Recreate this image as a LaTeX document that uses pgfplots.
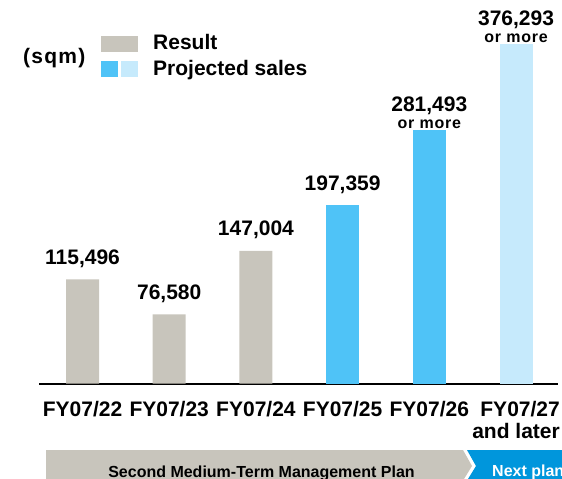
\documentclass[border=0pt]{standalone}
\usepackage{fontspec}
\setmainfont{Liberation Sans}
\usepackage{pgfplots}
\pgfplotsset{compat=1.18}
\definecolor{resgray}{RGB}{200,197,188}
\definecolor{projblue}{RGB}{79,195,247}
\definecolor{projlight}{RGB}{198,234,252}
\definecolor{banblue}{RGB}{0,150,220}
\newcommand{\ormore}{{\fontsize{16bp}{17bp}\selectfont\addfontfeatures{LetterSpace=5}or more}}
\begin{document}
\begin{tikzpicture}
\path[use as bounding box] (0,0) rectangle (562bp,-479bp);
\begin{axis}[
  at={(39bp,-383.5bp)}, anchor=south west,
  scale only axis, width=519bp, height=383.5bp,
  xmin=-0.502, xmax=5.484, ymin=0, ymax=425072,
  axis x line*=bottom, axis y line=none,
  x axis line style={line width=2bp},
  ybar, bar width=33bp, bar shift=0pt,
  xtick={0,1,2,3,4,5},
  xticklabels={FY07/22,FY07/23,FY07/24,FY07/25,FY07/26,{FY07/27\\and later}},
  xticklabel style={font=\fontsize{21bp}{22bp}\selectfont\bfseries, anchor=north, inner sep=0pt, yshift=-17.2bp, align=right},
  major tick length=0pt,
  clip=false,
  /pgf/number format/1000 sep={,},
  /pgf/number format/fixed,
  /pgf/number format/assume math mode=true,
]
\addplot[fill=resgray, draw=none, nodes near coords,
  every node near coord/.append style={font=\fontsize{21bp}{22bp}\selectfont\bfseries, anchor=base, yshift=15bp, inner sep=0pt}]
  coordinates {(0,115496) (1,76580) (2,147004)};
\addplot[fill=projblue, draw=none, nodes near coords,
  every node near coord/.append style={font=\fontsize{21bp}{22bp}\selectfont\bfseries, anchor=base, yshift=15bp, inner sep=0pt}]
  coordinates {(3,197359)};
\addplot[fill=projblue, draw=none,
  nodes near coords={\pgfmathprintnumber{\pgfplotspointmeta}\\\ormore},
  every node near coord/.append style={font=\fontsize{21bp}{17bp}\selectfont\bfseries, align=center, anchor=south, yshift=1bp, inner sep=0pt}]
  coordinates {(4,281493)};
\addplot[fill=projlight, draw=none,
  nodes near coords={\pgfmathprintnumber{\pgfplotspointmeta}\\\ormore},
  every node near coord/.append style={font=\fontsize{21bp}{17bp}\selectfont\bfseries, align=center, anchor=south, yshift=1bp, inner sep=0pt}]
  coordinates {(5,376293)};
\end{axis}
% legend
\fill[resgray] (101bp,-36bp) rectangle (138bp,-52bp);
\fill[projblue] (101bp,-61bp) rectangle (118bp,-77bp);
\fill[projlight] (121bp,-61bp) rectangle (138bp,-77bp);
\node[anchor=base west, inner sep=0pt, font=\fontsize{21bp}{22bp}\selectfont\bfseries] at (153bp,-49bp) {Result};
\node[anchor=base west, inner sep=0pt, font=\fontsize{21bp}{22bp}\selectfont\bfseries] at (153bp,-75bp) {Projected sales};
\node[anchor=base west, inner sep=0pt, font=\fontsize{21bp}{22bp}\selectfont\bfseries\addfontfeatures{LetterSpace=6}] at (23bp,-63bp) {(sqm)};
% banner
\fill[resgray] (46bp,-450bp) -- (463bp,-450bp) -- (472bp,-466bp) -- (464bp,-479bp) -- (46bp,-479bp) -- cycle;
\fill[banblue] (467bp,-450bp) -- (562bp,-450bp) -- (562bp,-479bp) -- (468bp,-479bp) -- (476bp,-466bp) -- cycle;
\node[anchor=base, inner sep=0pt, font=\fontsize{16bp}{18bp}\selectfont\bfseries] at (261.5bp,-477bp) {Second Medium-Term Management Plan};
\node[anchor=base west, inner sep=0pt, text=white, font=\fontsize{16bp}{18bp}\selectfont\bfseries] at (492bp,-476bp) {Next plan};
\end{tikzpicture}
\end{document}
